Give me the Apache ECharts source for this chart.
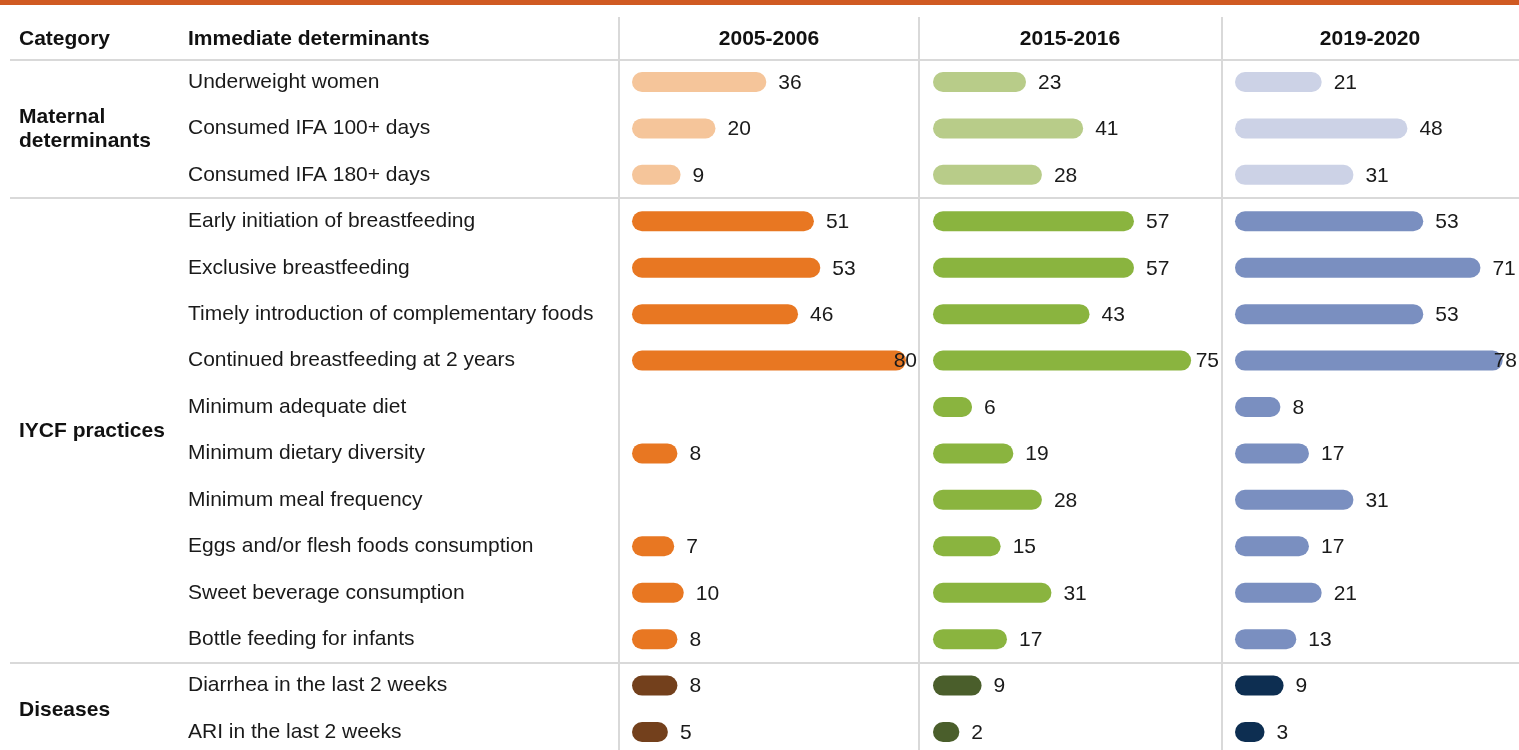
<!DOCTYPE html>
<html>
<head>
<meta charset="utf-8">
<script src="https://cdn.jsdelivr.net/npm/echarts@6/dist/echarts.min.js"></script>
<style>
  html, body { margin: 0; padding: 0; background: #fff; }
  #main { width: 1519px; height: 750px; }
</style>
</head>
<body>
<div id="main"></div>
<script>
// rows (immediate determinants), top to bottom
var determinants = [
  'Underweight women', 'Consumed IFA 100+ days', 'Consumed IFA 180+ days',
  'Early initiation of breastfeeding', 'Exclusive breastfeeding',
  'Timely introduction of complementary foods', 'Continued breastfeeding at 2 years',
  'Minimum adequate diet', 'Minimum dietary diversity', 'Minimum meal frequency',
  'Eggs and/or flesh foods consumption', 'Sweet beverage consumption',
  'Bottle feeding for infants', 'Diarrhea in the last 2 weeks', 'ARI in the last 2 weeks'
];
// category groups: label + first/last row
var groupNames = ['Maternal\ndeterminants', 'IYCF practices', 'Diseases'];
var groupFirst = [0, 3, 13];
var groupLast = [2, 12, 14];

var years = ['2005-2006', '2015-2016', '2019-2020'];
var v2005 = [36, 20, 9, 51, 53, 46, 80, null, 8, null, 7, 10, 8, 8, 5];
var v2015 = [23, 41, 28, 57, 57, 43, 75, 6, 19, 28, 15, 31, 17, 9, 2];
var v2019 = [21, 48, 31, 53, 71, 53, 78, 8, 17, 31, 17, 21, 13, 9, 3];
var yearValues = [v2005, v2015, v2019];

// colours per year, per group (maternal, IYCF, diseases)
var yearColors = [
  ['#f5c59a', '#e87722', '#73401c'],
  ['#b8cc89', '#8ab43f', '#4a5e2b'],
  ['#ccd2e6', '#7a8fc0', '#0d2e51']
];

var FONT = 'Liberation Sans, Arial, sans-serif';
var FS = 21;
var panelLeft = [642, 943, 1245];   // x of value 0
var panelEdge = [917, 1219, 1517];  // right limit for value labels

function groupOf(i) {
  for (var g = 0; g < groupFirst.length; g++) {
    if (i >= groupFirst[g] && i <= groupLast[g]) return g;
  }
  return 0;
}

var myChart = echarts.init(document.getElementById('main'));

var grids = [], xAxes = [], yAxes = [], series = [];
years.forEach(function (yr, p) {
  // first row centre at 82, last at 732
  grids.push({ left: panelLeft[p], top: 82, width: 254, height: 650 });
  xAxes.push({ type: 'value', gridIndex: p, min: 0, max: 80, show: false });
  yAxes.push({
    type: 'category', gridIndex: p, inverse: true, boundaryGap: false, data: determinants,
    axisLine: { show: false }, axisTick: { show: false }, splitLine: { show: false },
    axisLabel: p === 0 ? {
      show: true, align: 'left', margin: 642 - 188, padding: [3, 0, 0, 0],
      fontFamily: FONT, fontSize: FS, color: '#1a1a1a'
    } : { show: false }
  });

  var data = [];
  yearValues[p].forEach(function (v, i) {
    if (v != null) data.push([v, i]);
  });

  series.push({
    type: 'custom',
    xAxisIndex: p, yAxisIndex: p,
    clip: false,
    encode: { x: 0, y: 1 },
    data: data,
    renderItem: function (params, api) {
      var v = api.value(0), row = api.value(1);
      var start = api.coord([0, row]);
      var end = api.coord([v, row]);
      var r = 10, h = 20;
      var txt = String(v);
      var tw = txt.length * FS * 0.556;
      var lx = end[0] + r + 12, align = 'left';
      if (lx + tw > panelEdge[p]) { lx = panelEdge[p]; align = 'right'; }
      return {
        type: 'group',
        children: [{
          type: 'rect',
          shape: { x: start[0] - r, y: start[1] - h / 2, width: end[0] - start[0] + 2 * r, height: h, r: r },
          style: { fill: yearColors[p][groupOf(row)] }
        }, {
          type: 'text',
          x: lx, y: start[1] + 1,
          style: { text: txt, fill: '#1a1a1a', fontSize: FS, fontFamily: FONT, align: align, verticalAlign: 'middle' }
        }]
      };
    }
  });
});

// group labels on the left
var groupData = groupNames.map(function (n, g) { return [0, groupFirst[g], groupLast[g]]; });
series.push({
  type: 'custom',
  xAxisIndex: 0, yAxisIndex: 0,
  clip: false,
  data: groupData,
  renderItem: function (params, api) {
    var a = api.coord([0, api.value(1)]);
    var b = api.coord([0, api.value(2)]);
    return {
      type: 'text',
      x: 19, y: (a[1] + b[1]) / 2 + 1,
      style: {
        text: groupNames[params.dataIndex], fill: '#111', fontSize: FS, fontWeight: 'bold',
        fontFamily: FONT, align: 'left', verticalAlign: 'middle', lineHeight: 24
      }
    };
  }
});

var lineStyle = { stroke: '#d9d9d9', lineWidth: 2 };
var headFont = 'bold ' + FS + 'px ' + FONT;
var graphics = [
  { type: 'rect', left: 0, top: 0, shape: { width: 1519, height: 5 }, style: { fill: '#d05a22' } },
  { type: 'line', shape: { x1: 10, y1: 60, x2: 1519, y2: 60 }, style: lineStyle },
  { type: 'line', shape: { x1: 10, y1: 198, x2: 1519, y2: 198 }, style: lineStyle },
  { type: 'line', shape: { x1: 10, y1: 663, x2: 1519, y2: 663 }, style: lineStyle },
  { type: 'line', shape: { x1: 619, y1: 17, x2: 619, y2: 750 }, style: lineStyle },
  { type: 'line', shape: { x1: 919, y1: 17, x2: 919, y2: 750 }, style: lineStyle },
  { type: 'line', shape: { x1: 1222, y1: 17, x2: 1222, y2: 750 }, style: lineStyle },
  { type: 'text', x: 19, y: 39, style: { text: 'Category', fill: '#111', font: headFont, verticalAlign: 'middle' } },
  { type: 'text', x: 188, y: 39, style: { text: 'Immediate determinants', fill: '#111', font: headFont, verticalAlign: 'middle' } }
];
var headerCenters = [769, 1070, 1370];
years.forEach(function (yr, p) {
  graphics.push({
    type: 'text', x: headerCenters[p], y: 39,
    style: { text: yr, fill: '#111', font: headFont, align: 'center', verticalAlign: 'middle' }
  });
});

var option = {
  animation: false,
  grid: grids,
  xAxis: xAxes,
  yAxis: yAxes,
  series: series,
  graphic: graphics
};

myChart.setOption(option);
</script>
</body>
</html>
